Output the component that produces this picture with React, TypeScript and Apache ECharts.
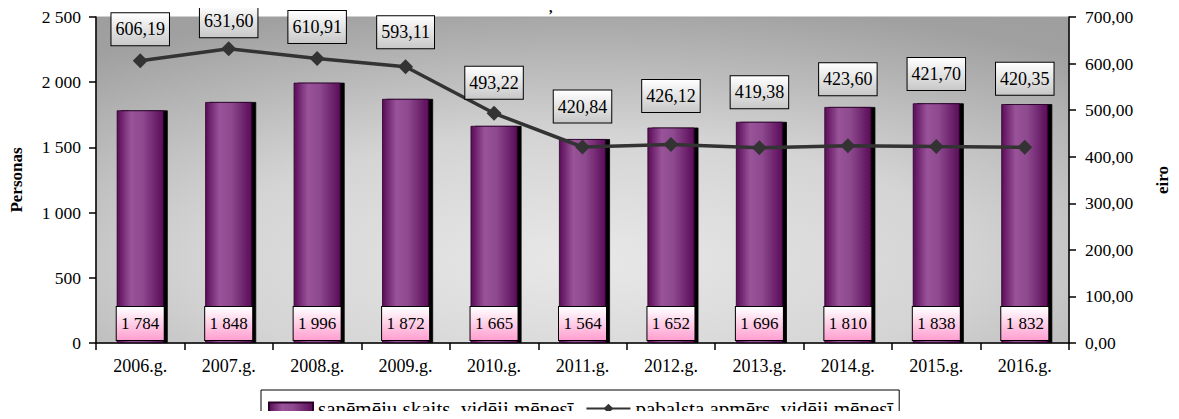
import React, { useEffect, useRef } from "react";
import * as echarts from "echarts";

const categories = ["2006.g.", "2007.g.", "2008.g.", "2009.g.", "2010.g.", "2011.g.", "2012.g.", "2013.g.", "2014.g.", "2015.g.", "2016.g."];
const recipients = [1784, 1848, 1996, 1872, 1665, 1564, 1652, 1696, 1810, 1838, 1832];
const benefit = [606.19, 631.6, 610.91, 593.11, 493.22, 420.84, 426.12, 419.38, 423.6, 421.7, 420.35];
const leftTicks = { min: 0, max: 2500, interval: 500 };
const rightTicks = { min: 0, max: 700, interval: 100 };
const barName = "saņēmēju skaits, vidēji mēnesī";
const lineName = "pabalsta apmērs, vidēji mēnesī";

// label distance (px) above each line marker, layout only
const labelLift = [8, 4, 8, 11, 7, 17, 25, 32, 43, 49, 45];

const FONT = "serif";

const fmtThousands = (v: number) => String(Math.round(v)).replace(/\B(?=(\d{3})+(?!\d))/g, " ");
const fmtDec = (v: number) => v.toFixed(2).replace(".", ",");

export default function App() {
  const ref = useRef<HTMLDivElement>(null);
  useEffect(() => {
    if (!ref.current) return;
    const chart = echarts.init(ref.current, undefined, { renderer: "svg" });
    const barGrad = new echarts.graphic.LinearGradient(0, 0, 1, 0, [
      { offset: 0, color: "#5a0c58" },
      { offset: 0.3, color: "#995399" },
      { offset: 0.55, color: "#8e4a8f" },
      { offset: 1, color: "#5a0c58" },
    ]);
    const pinkGrad = new echarts.graphic.LinearGradient(0, 0, 0, 1, [
      { offset: 0, color: "#ffffff" },
      { offset: 1, color: "#ff9fd0" },
    ]);
    const grayGrad = new echarts.graphic.LinearGradient(0, 0, 0, 1, [
      { offset: 0, color: "#ffffff" },
      { offset: 1, color: "#c8c8c8" },
    ]);
    const bgGrad = new echarts.graphic.RadialGradient(0.5, 0.75, 1.3, [
      { offset: 0, color: "#e8e8e8" },
      { offset: 0.3, color: "#d4d4d4" },
      { offset: 0.62, color: "#a0a0a0" },
      { offset: 1, color: "#969696" },
    ]);
    chart.setOption({
      animation: false,
      textStyle: { fontFamily: FONT },
      title: {
        text: ",",
        left: 549,
        top: 0,
        padding: 0,
        textStyle: { fontFamily: FONT, fontSize: 14, lineHeight: 14, fontWeight: "bold", color: "#000" },
      },
      grid: {
        left: 96,
        right: 109,
        top: 17,
        bottom: 76,
        show: true,
        backgroundColor: bgGrad,
        borderColor: "#a0a0a0",
        borderWidth: 1,
      },
      legend: {
        left: 261,
        top: 390,
        itemWidth: 44,
        itemHeight: 12,
        itemGap: 12,
        padding: [8, 6, 7, 7],
        borderColor: "#000",
        borderWidth: 1,
        backgroundColor: "#fff",
        textStyle: { fontFamily: FONT, fontSize: 21, lineHeight: 18, color: "#000" },
        data: [
          { name: barName, icon: "rect" },
          { name: lineName },
        ],
      },
      xAxis: {
        type: "category",
        data: categories,
        boundaryGap: true,
        axisLine: { lineStyle: { color: "#000", width: 1.5 } },
        axisTick: { show: true, length: 7, lineStyle: { color: "#000", width: 1.5 } },
        axisLabel: { color: "#000", fontFamily: FONT, fontSize: 18, margin: 14 },
      },
      yAxis: [
        {
          type: "value",
          min: leftTicks.min,
          max: leftTicks.max,
          interval: leftTicks.interval,
          name: "Personas",
          nameLocation: "middle",
          nameGap: 71,
          nameRotate: 90,
          nameTextStyle: { fontFamily: FONT, fontSize: 17, fontWeight: "bold", color: "#000" },
          axisLine: { show: true, lineStyle: { color: "#000", width: 1.5 } },
          axisTick: { show: true, length: 7, lineStyle: { color: "#000", width: 1.5 } },
          splitLine: { show: false },
          axisLabel: { color: "#000", fontFamily: FONT, fontSize: 17.5, margin: 15, formatter: fmtThousands },
        },
        {
          type: "value",
          min: rightTicks.min,
          max: rightTicks.max,
          interval: rightTicks.interval,
          name: "eiro",
          nameLocation: "middle",
          nameGap: 85,
          nameRotate: 90,
          nameTextStyle: { fontFamily: FONT, fontSize: 17, fontWeight: "bold", color: "#000" },
          axisLine: { show: true, lineStyle: { color: "#000", width: 1.5 } },
          axisTick: { show: true, length: 7, lineStyle: { color: "#000", width: 1.5 } },
          splitLine: { show: false },
          axisLabel: { color: "#000", fontFamily: FONT, fontSize: 17.5, margin: 16, formatter: fmtDec },
        },
      ],
      series: [
        {
          name: barName,
          type: "bar",
          yAxisIndex: 0,
          barWidth: 47,
          data: recipients,
          itemStyle: {
            color: barGrad,
            borderColor: "#2a002a",
            borderWidth: 0.8,
            shadowColor: "#000",
            shadowOffsetX: 4,
            shadowOffsetY: 0,
            shadowBlur: 0,
          },
          label: {
            show: true,
            position: "insideBottom",
            distance: 3,
            formatter: (p: any) => fmtThousands(p.value),
            fontFamily: FONT,
            fontSize: 17,
            color: "#000",
            backgroundColor: pinkGrad,
            borderColor: "#000",
            borderWidth: 1,
            width: 43,
            align: "center",
            lineHeight: 19,
            padding: [7, 2, 7, 2],
          },
        },
        {
          name: lineName,
          type: "line",
          yAxisIndex: 1,
          symbol: "diamond",
          symbolSize: 15,
          lineStyle: { color: "#333333", width: 3.5 },
          itemStyle: { color: "#333333" },
          data: benefit.map((v, i) => ({
            value: v,
            label: { distance: labelLift[i] },
          })),
          label: {
            show: true,
            position: "top",
            formatter: (p: any) => fmtDec(p.value),
            fontFamily: FONT,
            fontSize: 18,
            color: "#000",
            backgroundColor: grayGrad,
            borderColor: "#000",
            borderWidth: 1,
            lineHeight: 20,
            padding: [6, 4, 6, 4],
          },
        },
      ],
    });
    return () => chart.dispose();
  }, []);
  return <div ref={ref} style={{ width: 1179, height: 419, margin: -8 }} />;
}
